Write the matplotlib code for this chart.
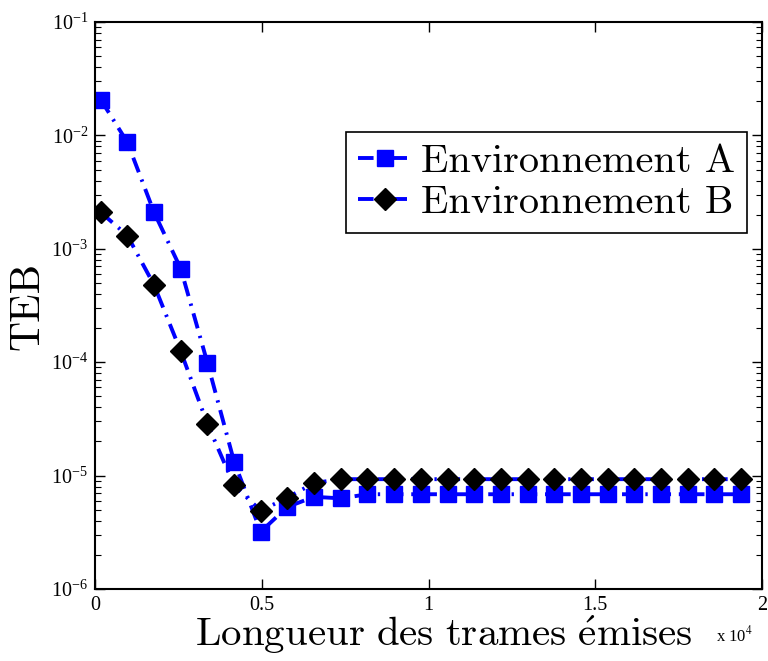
import numpy as np
import matplotlib
matplotlib.use("Agg")
import matplotlib.pyplot as plt

plt.rcParams['mathtext.fontset'] = 'stix'
plt.rcParams['font.family'] = ['Liberation Serif', 'DejaVu Serif']

longueur = [170, 970, 1770, 2570, 3370, 4170, 4970, 5770, 6570, 7370,
            8170, 8970, 9770, 10570, 11370, 12170, 12970, 13770, 14570,
            15370, 16170, 16970, 17770, 18570, 19370]

teb_A = [2.07e-2, 8.7e-3, 2.1e-3, 6.7e-4, 9.9e-5, 1.33e-5, 3.2e-6, 5.3e-6,
         6.5e-6, 6.3e-6, 6.85e-6, 6.85e-6, 6.85e-6, 6.85e-6, 6.85e-6,
         6.85e-6, 6.85e-6, 6.85e-6, 6.85e-6, 6.85e-6, 6.85e-6, 6.85e-6,
         6.85e-6, 6.85e-6, 6.85e-6]

teb_B = [2.1e-3, 1.31e-3, 4.8e-4, 1.25e-4, 2.86e-5, 8.2e-6, 4.9e-6, 6.4e-6,
         8.6e-6, 9.3e-6, 9.3e-6, 9.3e-6, 9.3e-6, 9.3e-6, 9.3e-6, 9.3e-6,
         9.3e-6, 9.3e-6, 9.3e-6, 9.3e-6, 9.3e-6, 9.3e-6, 9.3e-6, 9.3e-6,
         9.3e-6]

xticks = [0, 5000, 10000, 15000, 20000]
xlabels = ['0', '0.5', '1', '1.5', '2']

fig = plt.figure(figsize=(7.68, 6.61), dpi=100)
ax = fig.add_axes([95/768, 1-589/661, 667/768, 567/661])

dash = (4, 2, 0.6, 2)
ax.semilogy(longueur, teb_A, color='blue', lw=2.8, dashes=dash, marker='s', ms=11.5,
            mfc='blue', mec='blue', label='Environnement A')
ax.semilogy(longueur, teb_B, color='blue', lw=2.8, dashes=dash, marker='D', ms=11,
            mfc='black', mec='black', label='Environnement B')

ax.set_xlim(0, 20000)
ax.set_ylim(1e-6, 1e-1)
ax.set_xticks(xticks)
ax.set_xticklabels(xlabels)
ax.tick_params(which='both', direction='in', top=True, right=True, labelsize=14.5)
ax.tick_params(which='major', length=7, width=1, pad=5)
ax.tick_params(which='minor', length=4, width=0.8)
for s in ax.spines.values():
    s.set_linewidth(1.5)

ax.set_ylabel('TEB', fontsize=30, family='cmr10')
ax.yaxis.set_label_coords(-0.073, 0.5, transform=ax.transAxes)
ax.set_xlabel(r'$\mathrm{Longueur\ des\ trames\ \acute{e}mises}$', fontsize=29.5,
              math_fontfamily='cm')
ax.xaxis.set_label_coords(0.523, -0.043, transform=ax.transAxes)
ax.xaxis.label.set_va('top')
fig.text(716/768, 1-641/661, r'x 10$^4$', fontsize=12, ha='left', va='baseline')

leg = ax.legend(loc='upper right', bbox_to_anchor=(652/667, 1-(132-22)/567),
                prop={'family': 'cmr10', 'size': 29},
                fancybox=False, edgecolor='black', framealpha=1,
                handlelength=1.3, handletextpad=0.25, borderpad=0.3,
                labelspacing=0.12, borderaxespad=0)
leg.get_frame().set_linewidth(1.2)

fig.savefig('out.png', dpi=100)
